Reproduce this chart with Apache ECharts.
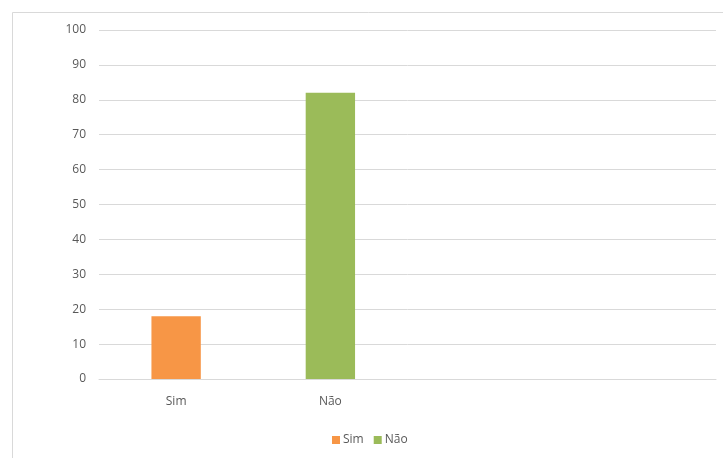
<!DOCTYPE html>
<html>
<head>
<meta charset="utf-8">
<script src="https://cdn.jsdelivr.net/npm/echarts@6/dist/echarts.min.js"></script>
<style>
html,body{margin:0;padding:0;background:#fff;}
#c{width:723px;height:458px;}
</style>
</head>
<body>
<div id="c"></div>
<script>
const categories = ['Sim', 'Não', '', ''];
const simValues = [18, null, null, null];
const naoValues = [null, 82, null, null];
const yTicks = { min: 0, max: 100, interval: 10 };

const chart = echarts.init(document.getElementById('c'));
const font = 'Open Sans';
chart.setOption({
  animation: false,
  backgroundColor: '#fff',
  graphic: [{
    type: 'rect', left: 10, top: 10, z: -1,
    shape: { x: 0, y: 0, width: 760, height: 500 },
    style: { fill: 'none', stroke: '#d9d9d9', lineWidth: 1 }
  }],
  grid: { left: 99, right: 7, top: 30, bottom: 79 },
  legend: {
    top: 429, left: 327,
    itemWidth: 8, itemHeight: 8, itemGap: 10,
    icon: 'rect',
    textStyle: { color: '#595959', fontSize: 12, fontFamily: font, padding: [0, 0, 0, -2] },
    data: ['Sim', 'Não']
  },
  xAxis: {
    type: 'category', data: categories,
    axisLine: { show: true, lineStyle: { color: '#d9d9d9' } },
    axisTick: { show: false },
    axisLabel: { color: '#595959', fontSize: 12, fontFamily: font, margin: 17 }
  },
  yAxis: {
    type: 'value', min: yTicks.min, max: yTicks.max, interval: yTicks.interval,
    axisLine: { show: false }, axisTick: { show: false },
    axisLabel: { color: '#595959', fontSize: 12, fontFamily: font, margin: 13 },
    splitLine: { lineStyle: { color: '#d9d9d9', width: 1 } }
  },
  series: [
    { name: 'Sim', type: 'bar', stack: 's', data: simValues, barWidth: '32%', itemStyle: { color: '#f79646' } },
    { name: 'Não', type: 'bar', stack: 's', data: naoValues, barWidth: '32%', itemStyle: { color: '#9bbb59' } }
  ]
});
</script>
</body>
</html>
